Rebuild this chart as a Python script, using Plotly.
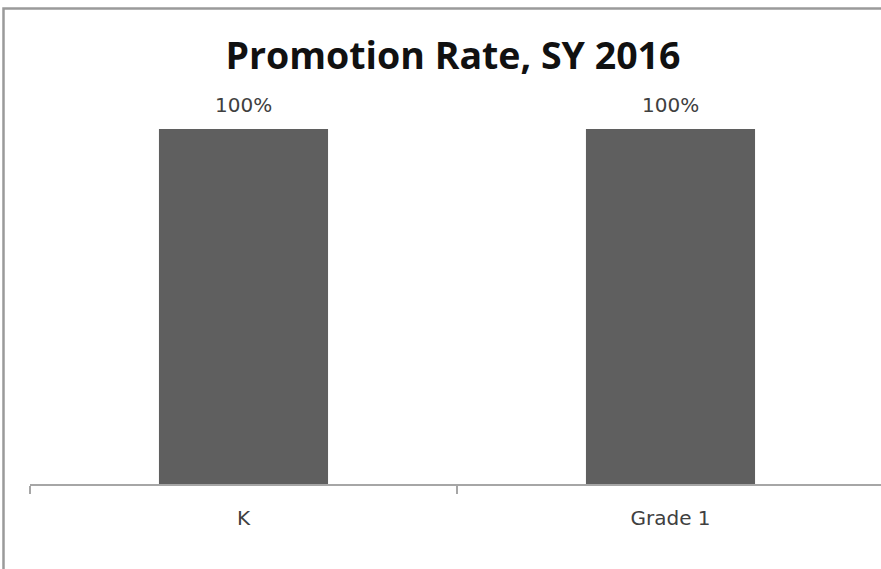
import plotly.graph_objects as go

categories = ["K", "Grade 1"]
values = [100, 100]
labels = ["100%", "100%"]
title_text = "Promotion Rate, SY 2016"

W, H = 881, 569
L, R, T, B = 30, 0, 58, 85
pw, ph = W - L - R, H - T - B

fig = go.Figure()
fig.add_trace(go.Bar(
    x=categories, y=values, width=0.396,
    marker=dict(color="#5f5f5f", line=dict(width=0)),
    hoverinfo="skip",
))

for c, v, t in zip(categories, values, labels):
    fig.add_annotation(x=c, y=v, text=t, showarrow=False, yanchor="bottom",
                       yshift=10, font=dict(family="DejaVu Sans", size=20, color="#404040"))

# chart border (outer frame, extends past the visible area)
fig.add_shape(type="rect", xref="paper", yref="paper",
              x0=(3.5 - L) / pw, x1=1.1, y0=-0.4, y1=(H - B - 8.5) / ph,
              line=dict(color="#9a9a9a", width=2.5), fillcolor="rgba(0,0,0,0)", layer="above")

fig.update_layout(
    width=W, height=H,
    margin=dict(l=L, r=R, t=T, b=B),
    paper_bgcolor="white", plot_bgcolor="white",
    showlegend=False,
    title=dict(text="<b>" + title_text + "</b>", x=(453 - L) / pw, xref="paper", xanchor="center",
               y=1 - 56 / H, yanchor="middle",
               font=dict(family="Open Sans", size=37.5, color="#111111")),
    xaxis=dict(
        type="category", range=[-0.5, 1.493],
        showline=True, linecolor="#a6a6a6", linewidth=2,
        ticks="outside", tickson="boundaries", ticklen=8, tickwidth=2, tickcolor="#a6a6a6",
        ticklabelstandoff=15,
        tickfont=dict(family="DejaVu Sans", size=20, color="#404040"),
        showgrid=False, zeroline=False,
    ),
    yaxis=dict(range=[0, 120], visible=False, showgrid=False, zeroline=False),
)

fig.write_html("out.html", config={"displayModeBar": False},
               post_script="document.body.style.margin='0';document.body.style.overflow='hidden';")
